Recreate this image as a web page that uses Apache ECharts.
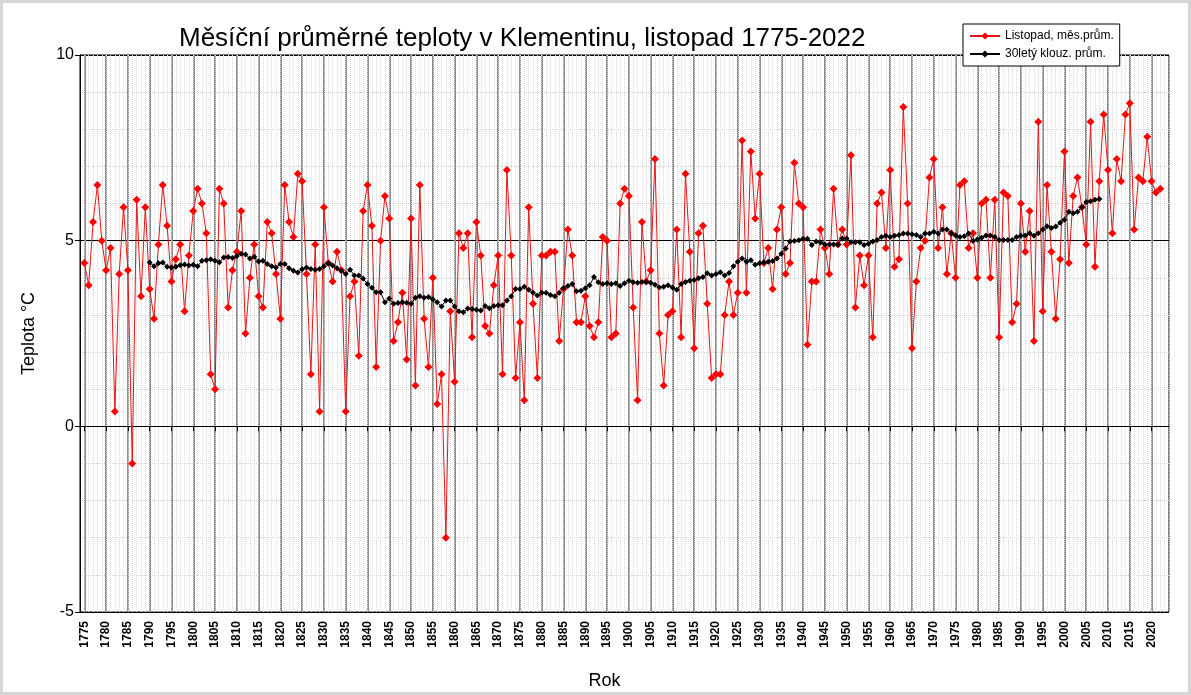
<!DOCTYPE html>
<html>
<head>
<meta charset="utf-8">
<title>Klementinum listopad</title>
<script src="https://cdn.jsdelivr.net/npm/echarts@6/dist/echarts.min.js"></script>
<style>
html, body { margin: 0; padding: 0; background: #fff; }
#chart { width: 1191px; height: 695px; }
#frame { position: absolute; left: 0; top: 0; width: 1191px; height: 695px; box-sizing: border-box; border: 3px solid #d6d6d6; pointer-events: none; }
</style>
</head>
<body>
<div id="chart"></div>
<div id="frame"></div>
<script>
// listopad, mesicni prumer (1775 - 2022), po dekadach
const novStart = 1775
const nov1775 = [4.4, 3.8, 5.5, 6.5, 5.0]
const nov1780 = [4.2, 4.8, 0.4, 4.1, 5.9, 4.2, -1.0, 6.1, 3.5, 5.9]
const nov1790 = [3.7, 2.9, 4.9, 6.5, 5.4, 3.9, 4.5, 4.9, 3.1, 4.6]
const nov1800 = [5.8, 6.4, 6.0, 5.2, 1.4, 1.0, 6.4, 6.0, 3.2, 4.2]
const nov1810 = [4.7, 5.8, 2.5, 4.0, 4.9, 3.5, 3.2, 5.5, 5.2, 4.1]
const nov1820 = [2.9, 6.5, 5.5, 5.1, 6.8, 6.6, 4.1, 1.4, 4.9, 0.4]
const nov1830 = [5.9, 4.4, 3.9, 4.7, 4.2, 0.4, 3.5, 3.9, 1.9, 5.8]
const nov1840 = [6.5, 5.4, 1.6, 5.0, 6.2, 5.6, 2.3, 2.8, 3.6, 1.8]
const nov1850 = [5.6, 1.1, 6.5, 2.9, 1.6, 4.0, 0.6, 1.4, -3.0, 3.1]
const nov1860 = [1.2, 5.2, 4.8, 5.2, 2.4, 5.5, 4.6, 2.7, 2.5, 3.8]
const nov1870 = [4.6, 1.4, 6.9, 4.6, 1.3, 2.8, 0.7, 5.9, 3.3, 1.3]
const nov1880 = [4.6, 4.6, 4.7, 4.7, 2.3, 3.7, 5.3, 4.6, 2.8, 2.8]
const nov1890 = [3.5, 2.7, 2.4, 2.8, 5.1, 5.0, 2.4, 2.5, 6.0, 6.4]
const nov1900 = [6.2, 3.2, 0.7, 5.5, 3.9, 4.2, 7.2, 2.5, 1.1, 3.0]
const nov1910 = [3.1, 5.3, 2.4, 6.8, 4.7, 2.1, 5.2, 5.4, 3.3, 1.3]
const nov1920 = [1.4, 1.4, 3.0, 3.9, 3.0, 3.6, 7.7, 3.6, 7.4, 5.6]
const nov1930 = [6.8, 4.4, 4.8, 3.7, 5.3, 5.9, 4.1, 4.4, 7.1, 6.0]
const nov1940 = [5.9, 2.2, 3.9, 3.9, 5.3, 4.8, 4.1, 6.4, 4.9, 5.3]
const nov1950 = [4.9, 7.3, 3.2, 4.6, 3.8, 4.6, 2.4, 6.0, 6.3, 4.8]
const nov1960 = [6.9, 4.3, 4.5, 8.6, 6.0, 2.1, 3.9, 4.8, 5.0, 6.7]
const nov1970 = [7.2, 4.8, 5.9, 4.1, 5.2, 4.0, 6.5, 6.6, 4.8, 5.2]
const nov1980 = [4.0, 6.0, 6.1, 4.0, 6.1, 2.4, 6.3, 6.2, 2.8, 3.3]
const nov1990 = [6.0, 4.7, 5.8, 2.3, 8.2, 3.1, 6.5, 4.7, 2.9, 4.5]
const nov2000 = [7.4, 4.4, 6.2, 6.7, 5.9, 4.9, 8.2, 4.3, 6.6, 8.4]
const nov2010 = [6.9, 5.2, 7.2, 6.6, 8.4, 8.7, 5.3, 6.7, 6.6, 7.8]
const nov2020 = [6.6, 6.3, 6.4]

// 30lety klouzavy prumer (1790 - 2008)
const avgStart = 1790
const avg1790 = [4.41, 4.31, 4.39, 4.41, 4.30, 4.28, 4.30, 4.34, 4.36, 4.33]
const avg1800 = [4.35, 4.31, 4.46, 4.47, 4.50, 4.46, 4.42, 4.55, 4.56, 4.53]
const avg1810 = [4.59, 4.65, 4.63, 4.52, 4.57, 4.44, 4.46, 4.37, 4.31, 4.28]
const avg1820 = [4.37, 4.37, 4.26, 4.19, 4.14, 4.23, 4.28, 4.24, 4.22, 4.24]
const avg1830 = [4.31, 4.39, 4.33, 4.26, 4.19, 4.10, 4.22, 4.06, 4.06, 3.98]
const avg1840 = [3.83, 3.73, 3.61, 3.61, 3.34, 3.44, 3.30, 3.32, 3.34, 3.33]
const avg1850 = [3.30, 3.46, 3.50, 3.46, 3.48, 3.42, 3.34, 3.23, 3.39, 3.39]
const avg1860 = [3.23, 3.10, 3.07, 3.17, 3.16, 3.14, 3.12, 3.24, 3.18, 3.24]
const avg1870 = [3.26, 3.26, 3.39, 3.50, 3.70, 3.70, 3.76, 3.68, 3.60, 3.52]
const avg1880 = [3.60, 3.60, 3.54, 3.50, 3.60, 3.72, 3.78, 3.83, 3.64, 3.65]
const avg1890 = [3.72, 3.80, 4.02, 3.88, 3.83, 3.85, 3.83, 3.85, 3.78, 3.85]
const avg1900 = [3.92, 3.88, 3.87, 3.89, 3.89, 3.87, 3.81, 3.74, 3.76, 3.80]
const avg1910 = [3.74, 3.68, 3.83, 3.89, 3.92, 3.94, 3.99, 4.02, 4.12, 4.06]
const avg1920 = [4.10, 4.15, 4.06, 4.13, 4.31, 4.43, 4.52, 4.43, 4.47, 4.35]
const avg1930 = [4.39, 4.41, 4.43, 4.45, 4.52, 4.65, 4.79, 4.98, 4.99, 5.01]
const avg1940 = [5.05, 5.05, 4.88, 4.98, 4.95, 4.90, 4.90, 4.90, 4.90, 5.06]
const avg1950 = [5.06, 4.96, 4.96, 4.96, 4.88, 4.92, 4.98, 5.02, 5.10, 5.13]
const avg1960 = [5.10, 5.13, 5.15, 5.19, 5.19, 5.17, 5.15, 5.10, 5.19, 5.19]
const avg1970 = [5.24, 5.19, 5.30, 5.30, 5.20, 5.14, 5.10, 5.12, 5.19, 4.99]
const avg1980 = [5.03, 5.08, 5.14, 5.14, 5.10, 5.02, 5.02, 5.02, 5.02, 5.10]
const avg1990 = [5.13, 5.14, 5.20, 5.13, 5.20, 5.30, 5.39, 5.34, 5.38, 5.48]
const avg2000 = [5.56, 5.78, 5.74, 5.78, 5.90, 6.04, 6.06, 6.10, 6.12]

// osa x: roky (kategorie), popisky po 5 letech
const axisFirstYear = 1774
const axisLastYear = 2024
const yTicks = [-5, 0, 5, 10]

const novTemp = [].concat(nov1775, nov1780, nov1790, nov1800, nov1810, nov1820, nov1830,
  nov1840, nov1850, nov1860, nov1870, nov1880, nov1890, nov1900, nov1910, nov1920,
  nov1930, nov1940, nov1950, nov1960, nov1970, nov1980, nov1990, nov2000, nov2010, nov2020)
const avg30 = [].concat(avg1790, avg1800, avg1810, avg1820, avg1830, avg1840, avg1850,
  avg1860, avg1870, avg1880, avg1890, avg1900, avg1910, avg1920, avg1930, avg1940,
  avg1950, avg1960, avg1970, avg1980, avg1990, avg2000)

const axisYears = []
for (let y = axisFirstYear; y <= axisLastYear; y++) axisYears.push(String(y))

const novData = novTemp.map((v, i) => [String(novStart + i), v])
const avgData = avg30.map((v, i) => [String(avgStart + i), v])

const everyFive = (idx, val) => Number(val) % 5 === 0

var myChart = echarts.init(document.getElementById('chart'))

const option = {
  animation: false,
  textStyle: { fontFamily: 'Liberation Sans, Arial, sans-serif' },
  title: {
    text: 'Měsíční průměrné teploty v Klementinu, listopad 1775-2022',
    left: 174,
    top: 21,
    textStyle: { fontSize: 26, fontWeight: 'normal', color: '#000' }
  },
  legend: {
    orient: 'vertical',
    left: 963,
    top: 24,
    backgroundColor: '#fff',
    borderColor: '#000',
    borderWidth: 1,
    padding: [6, 6, 6, 6],
    itemGap: 6,
    itemWidth: 30,
    itemHeight: 9,
    textStyle: { fontSize: 12, color: '#000' },
    data: ['Listopad, měs.prům.', '30letý klouz. prům.']
  },
  grid: {
    left: 80,
    right: 22,
    top: 55,
    bottom: 81,
    show: true,
    borderColor: '#000',
    borderWidth: 1,
    containLabel: false
  },
  xAxis: [
    {
      type: 'category',
      data: axisYears,
      boundaryGap: false,
      name: 'Rok',
      nameLocation: 'middle',
      nameGap: 60,
      nameTextStyle: { fontSize: 18, color: '#000', padding: [0, 40, 0, 0] },
      axisLine: { lineStyle: { color: '#000', width: 1 } },
      axisTick: { interval: everyFive, length: 5, lineStyle: { color: '#000' } },
      axisLabel: { interval: everyFive, rotate: 90, fontSize: 12, fontWeight: 'bold', color: '#000', margin: 9 },
      splitLine: { show: true, interval: everyFive, lineStyle: { color: '#8c8c8c', width: 2 } }
    },
    {
      type: 'category',
      data: axisYears,
      boundaryGap: false,
      axisLine: { show: false },
      axisTick: { show: false },
      axisLabel: { show: false },
      splitLine: { show: true, interval: 0, lineStyle: { color: '#dadada', type: 'dotted', width: 1 } }
    }
  ],
  yAxis: {
    type: 'value',
    min: yTicks[0],
    max: yTicks[yTicks.length - 1],
    interval: 5,
    name: 'Teplota °C',
    nameLocation: 'middle',
    nameGap: 42,
    nameTextStyle: { fontSize: 18, color: '#000' },
    axisLine: { show: true, lineStyle: { color: '#000' } },
    axisTick: { show: true, length: 5, lineStyle: { color: '#000' } },
    axisLabel: { fontSize: 16, color: '#000', margin: 6 },
    splitLine: { show: true, lineStyle: { color: '#000', width: 1 } },
    minorTick: { show: false, splitNumber: 5 },
    minorSplitLine: { show: true, lineStyle: { color: '#d2d2d2', type: 'dotted' } }
  },
  series: [
    {
      name: 'Listopad, měs.prům.',
      type: 'line',
      xAxisIndex: 0,
      data: novData,
      symbol: 'diamond',
      symbolSize: 8,
      showAllSymbol: true,
      itemStyle: { color: '#ff0000' },
      lineStyle: { color: '#e51414', width: 1 },
      z: 3
    },
    {
      name: '30letý klouz. prům.',
      type: 'line',
      xAxisIndex: 0,
      data: avgData,
      symbol: 'diamond',
      symbolSize: 6,
      showAllSymbol: true,
      itemStyle: { color: '#000' },
      lineStyle: { color: '#000', width: 1 },
      z: 4
    }
  ]
}

myChart.setOption(option)
</script>
</body>
</html>
